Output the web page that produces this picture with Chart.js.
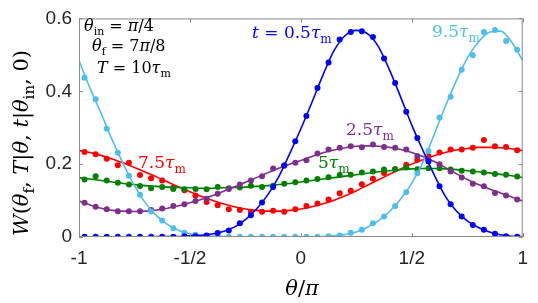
<!DOCTYPE html>
<html>
<head>
<meta charset="utf-8">
<script src="https://cdn.jsdelivr.net/npm/chart.js@4"></script>
<style>
  html, body { margin: 0; padding: 0; background: #fff; }
  #wrap { width: 538px; height: 303px; }
</style>
</head>
<body>
<div id="wrap"><canvas id="chart" width="538" height="303"></canvas></div>
<script>
//-----------------------------------------------------------------------------
// data (theta in units of pi, W per radian)
//-----------------------------------------------------------------------------

var lineTheta = [-1, -0.95, -0.9, -0.85, -0.8, -0.75, -0.7, -0.65, -0.6, -0.55, -0.5,
  -0.45, -0.4, -0.35, -0.3, -0.25, -0.2, -0.15, -0.1, -0.05, 0,
  0.05, 0.1, 0.15, 0.2, 0.25, 0.3, 0.35, 0.4, 0.45, 0.5,
  0.55, 0.6, 0.65, 0.7, 0.75, 0.8, 0.85, 0.9, 0.95, 1];

var dotTheta = [-0.975, -0.925, -0.875, -0.825, -0.775, -0.725, -0.675, -0.625, -0.575, -0.525,
  -0.475, -0.425, -0.375, -0.325, -0.275, -0.225, -0.175, -0.125, -0.075, -0.025,
  0.025, 0.075, 0.125, 0.175, 0.225, 0.275, 0.325, 0.375, 0.425, 0.475,
  0.525, 0.575, 0.625, 0.675, 0.725, 0.775, 0.825, 0.875, 0.925, 0.975];

// t = 0.5 tau_m
var line05 = [0, 0, 0, 0, 0, 0, 0, 0.001, 0.001, 0.001, 0.003,
  0.005, 0.008, 0.015, 0.027, 0.048, 0.077, 0.115, 0.165, 0.229, 0.297,
  0.370, 0.445, 0.512, 0.553, 0.567, 0.558, 0.522, 0.458, 0.384, 0.307,
  0.238, 0.172, 0.113, 0.072, 0.044, 0.026, 0.014, 0.006, 0.002, 0.001];
var dots05 = [0.001, 0.001, 0.001, 0.001, 0.001, 0.001, 0.001, 0.001, 0.001, 0.002,
  0.002, 0.004, 0.011, 0.018, 0.038, 0.060, 0.095, 0.137, 0.196, 0.263,
  0.332, 0.409, 0.479, 0.542, 0.563, 0.565, 0.549, 0.490, 0.423, 0.344,
  0.272, 0.207, 0.139, 0.090, 0.056, 0.033, 0.020, 0.009, 0.002, 0.001];

// t = 2.5 tau_m
var line25 = [0.099, 0.088, 0.079, 0.073, 0.071, 0.070, 0.071, 0.074, 0.079, 0.086, 0.094,
  0.103, 0.113, 0.125, 0.137, 0.150, 0.163, 0.176, 0.189, 0.200, 0.210,
  0.221, 0.231, 0.239, 0.245, 0.249, 0.250, 0.249, 0.246, 0.240, 0.232,
  0.221, 0.207, 0.191, 0.174, 0.158, 0.144, 0.132, 0.121, 0.110, 0.099];
var dots25 = [0.094, 0.083, 0.076, 0.071, 0.071, 0.071, 0.074, 0.078, 0.085, 0.090,
  0.099, 0.105, 0.119, 0.132, 0.144, 0.155, 0.167, 0.188, 0.196, 0.204,
  0.211, 0.229, 0.240, 0.245, 0.249, 0.246, 0.254, 0.247, 0.245, 0.240,
  0.222, 0.212, 0.200, 0.180, 0.163, 0.146, 0.139, 0.121, 0.114, 0.103];

// t = 5 tau_m
var line5 = [0.163, 0.159, 0.155, 0.151, 0.147, 0.144, 0.141, 0.139, 0.137, 0.136, 0.135,
  0.134, 0.134, 0.135, 0.136, 0.137, 0.139, 0.141, 0.144, 0.147, 0.151,
  0.155, 0.159, 0.163, 0.167, 0.171, 0.175, 0.179, 0.182, 0.185, 0.187,
  0.188, 0.188, 0.187, 0.185, 0.182, 0.179, 0.176, 0.172, 0.168, 0.163];
var dots5 = [0.158, 0.167, 0.155, 0.149, 0.144, 0.140, 0.134, 0.137, 0.132, 0.131,
  0.132, 0.131, 0.137, 0.134, 0.136, 0.141, 0.137, 0.141, 0.146, 0.150,
  0.155, 0.159, 0.164, 0.170, 0.171, 0.177, 0.180, 0.185, 0.186, 0.191,
  0.186, 0.189, 0.189, 0.185, 0.182, 0.180, 0.177, 0.173, 0.171, 0.166];

// t = 7.5 tau_m
var line75 = [0.237, 0.232, 0.224, 0.214, 0.203, 0.191, 0.178, 0.165, 0.151, 0.137, 0.124,
  0.112, 0.101, 0.091, 0.083, 0.077, 0.073, 0.071, 0.071, 0.073, 0.077,
  0.083, 0.091, 0.101, 0.113, 0.127, 0.142, 0.157, 0.172, 0.187, 0.200,
  0.212, 0.223, 0.232, 0.239, 0.243, 0.246, 0.246, 0.245, 0.242, 0.237];
var dots75 = [0.233, 0.227, 0.215, 0.197, 0.204, 0.170, 0.161, 0.155, 0.135, 0.128,
  0.114, 0.096, 0.087, 0.076, 0.074, 0.069, 0.069, 0.072, 0.069, 0.076,
  0.085, 0.092, 0.103, 0.120, 0.127, 0.145, 0.160, 0.176, 0.186, 0.198,
  0.212, 0.222, 0.232, 0.240, 0.240, 0.245, 0.266, 0.249, 0.247, 0.238];

// t = 9.5 tau_m
var line95 = [0.484, 0.408, 0.339, 0.266, 0.200, 0.141, 0.093, 0.058, 0.034, 0.018, 0.009,
  0.004, 0.002, 0.001, 0, 0, 0, 0, 0, 0, 0,
  0, 0.001, 0.003, 0.007, 0.014, 0.027, 0.045, 0.070, 0.104, 0.148,
  0.205, 0.280, 0.357, 0.428, 0.490, 0.535, 0.562, 0.565, 0.535, 0.484];
var dots95 = [0.437, 0.378, 0.297, 0.231, 0.168, 0.116, 0.070, 0.045, 0.024, 0.012,
  0.006, 0.003, 0.001, 0.001, 0.001, 0.001, 0.001, 0.001, 0.001, 0.001,
  0.001, 0.001, 0.002, 0.004, 0.012, 0.020, 0.038, 0.056, 0.085, 0.123,
  0.175, 0.236, 0.328, 0.385, 0.459, 0.499, 0.563, 0.568, 0.538, 0.514];

var xTickValues = [-1, -0.5, 0, 0.5, 1];
var xTickLabels = ['-1', '-1/2', '0', '1/2', '1'];
var yTickValues = [0, 0.2, 0.4, 0.6];
var yTickLabels = ['0', '0.2', '0.4', '0.6'];

var series = [
  { line: line05, dots: dots05, color: '#0000ff' },
  { line: line95, dots: dots95, color: '#4dbeee' },
  { line: line25, dots: dots25, color: '#7e2f8e' },
  { line: line5,  dots: dots5,  color: '#008000' },
  { line: line75, dots: dots75, color: '#ff0000' }
];

//-----------------------------------------------------------------------------
// helpers
//-----------------------------------------------------------------------------

var SERIF = '"DejaVu Serif"';

function fontFor(style, size) {
  if (style === 'i') return 'italic ' + size + 'px ' + SERIF;
  if (style === 's') return Math.round(size * 0.7) + 'px ' + SERIF;
  return size + 'px ' + SERIF;
}

// parts: [text, style] with style 'i' italic, 'r' roman, 's' subscript
function richWidth(ctx, parts, size) {
  var w = 0;
  parts.forEach(function(p) {
    ctx.font = fontFor(p[1], size);
    w += ctx.measureText(p[0]).width;
  });
  return w;
}

function drawRich(ctx, x, y, parts, size, color, align) {
  ctx.fillStyle = color;
  ctx.textBaseline = 'alphabetic';
  ctx.textAlign = 'left';
  if (align === 'center') x -= richWidth(ctx, parts, size) / 2;
  parts.forEach(function(p) {
    ctx.font = fontFor(p[1], size);
    var dy = p[1] === 's' ? size * 0.28 : 0;
    ctx.fillText(p[0], x, y + dy);
    x += ctx.measureText(p[0]).width;
  });
}

var notes = [
  { x: 84, y: 31, size: 16, color: '#000', parts: [['θ', 'i'], ['in', 's'], [' = ', 'r'], ['π', 'i'], ['/4', 'r']] },
  { x: 92, y: 51, size: 16, color: '#000', parts: [['θ', 'i'], ['f', 's'], [' = ', 'r'], ['7', 'r'], ['π', 'i'], ['/8', 'r']] },
  { x: 97, y: 73, size: 16, color: '#000', parts: [['T', 'i'], [' = ', 'r'], ['10', 'r'], ['τ', 'i'], ['m', 's']] },
  { x: 252, y: 38, size: 17, color: '#0000ff', parts: [['t', 'i'], [' = ', 'r'], ['0.5', 'r'], ['τ', 'i'], ['m', 's']] },
  { x: 432, y: 37, size: 17, color: '#4dbeee', parts: [['9.5', 'r'], ['τ', 'i'], ['m', 's']] },
  { x: 346, y: 135, size: 17, color: '#7e2f8e', parts: [['2.5', 'r'], ['τ', 'i'], ['m', 's']] },
  { x: 318, y: 168, size: 17, color: '#008000', parts: [['5', 'r'], ['τ', 'i'], ['m', 's']] },
  { x: 138, y: 168, size: 17, color: '#ff0000', parts: [['7.5', 'r'], ['τ', 'i'], ['m', 's']] }
];

// box, inward ticks, axis titles and curve labels
var decorations = {
  id: 'decorations',
  afterDraw: function(chart) {
    var ctx = chart.ctx,
        a = chart.chartArea,
        xs = chart.scales.x,
        ys = chart.scales.y,
        tick = 4;

    ctx.save();
    ctx.strokeStyle = '#8a8a8a';
    ctx.lineWidth = 1;
    ctx.strokeRect(a.left + 0.5, a.top + 0.5, a.right - a.left - 1, a.bottom - a.top - 1);

    ctx.beginPath();
    xTickValues.forEach(function(v) {
      var px = Math.round(xs.getPixelForValue(v)) + 0.5;
      ctx.moveTo(px, a.bottom); ctx.lineTo(px, a.bottom - tick);
      ctx.moveTo(px, a.top); ctx.lineTo(px, a.top + tick);
    });
    yTickValues.forEach(function(v) {
      var py = Math.round(ys.getPixelForValue(v)) + 0.5;
      ctx.moveTo(a.left, py); ctx.lineTo(a.left + tick, py);
      ctx.moveTo(a.right, py); ctx.lineTo(a.right - tick, py);
    });
    ctx.stroke();

    // axis titles
    drawRich(ctx, 302, 295, [['θ', 'i'], ['/', 'r'], ['π', 'i']], 21, '#000', 'center');
    ctx.save();
    ctx.translate(28, 143);
    ctx.rotate(-Math.PI / 2);
    drawRich(ctx, 0, 0, [['W', 'i'], ['(', 'r'], ['θ', 'i'], ['f', 's'], [', ', 'r'], ['T', 'i'],
      ['|', 'r'], ['θ', 'i'], [', ', 'r'], ['t', 'i'], ['|', 'r'], ['θ', 'i'], ['in', 's'],
      [', 0)', 'r']], 21, '#000', 'center');
    ctx.restore();

    notes.forEach(function(n) {
      drawRich(ctx, n.x, n.y, n.parts, n.size, n.color);
    });
    ctx.restore();
  }
};

//-----------------------------------------------------------------------------
// chart
//-----------------------------------------------------------------------------

var datasets = [];
series.forEach(function(s) {
  datasets.push({
    data: lineTheta.map(function(t, i) { return { x: t, y: s.line[i] }; }),
    showLine: true,
    borderColor: s.color,
    borderWidth: 1.6,
    pointRadius: 0,
    cubicInterpolationMode: 'monotone'
  });
  datasets.push({
    data: dotTheta.map(function(t, i) { return { x: t, y: s.dots[i] }; }),
    showLine: false,
    backgroundColor: s.color,
    borderWidth: 0,
    pointRadius: 3
  });
});

var tickFont = { family: '"Liberation Sans", Arial, sans-serif', size: 19 };

new Chart(document.getElementById('chart'), {
  type: 'scatter',
  data: { datasets: datasets },
  options: {
    responsive: false,
    animation: false,
    layout: { padding: { top: 15, right: 10, left: 0, bottom: 0 } },
    plugins: { legend: { display: false }, tooltip: { enabled: false } },
    scales: {
      x: {
        type: 'linear', min: -1, max: 1,
        grid: { display: false, drawTicks: false },
        border: { display: false },
        afterBuildTicks: function(axis) {
          axis.ticks = xTickValues.map(function(v) { return { value: v }; });
        },
        afterFit: function(axis) { axis.height = 66; },
        ticks: {
          color: '#262626', font: tickFont, padding: 10, maxRotation: 0,
          callback: function(v) { return xTickLabels[xTickValues.indexOf(v)]; }
        }
      },
      y: {
        type: 'linear', min: 0, max: 0.6,
        grid: { display: false, drawTicks: false },
        border: { display: false },
        afterBuildTicks: function(axis) {
          axis.ticks = yTickValues.map(function(v) { return { value: v }; });
        },
        afterFit: function(axis) { axis.width = 79; },
        ticks: {
          color: '#262626', font: tickFont, padding: 7,
          callback: function(v) { return yTickLabels[yTickValues.indexOf(v)]; }
        }
      }
    }
  },
  plugins: [decorations]
});
</script>
</body>
</html>
